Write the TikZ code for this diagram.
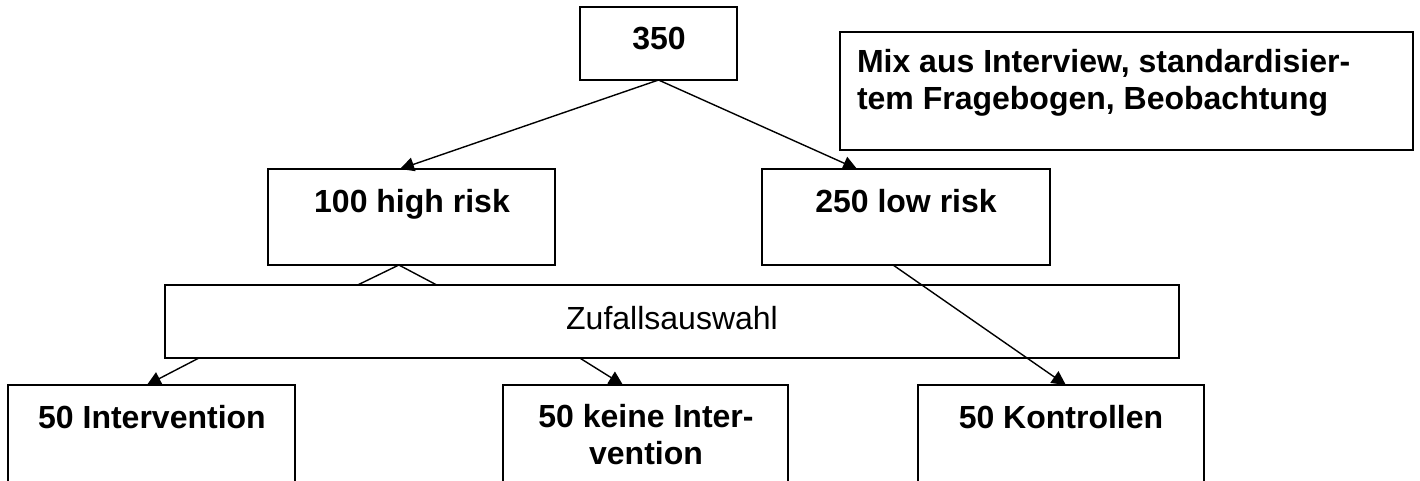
\documentclass[tikz,border=0pt]{standalone}
\usepackage{fontspec}
\setmainfont{Liberation Sans}
\usetikzlibrary{arrows.meta,calc}
\begin{document}
\begin{tikzpicture}[x=1pt,y=-1pt,
  box/.style={draw=black,line width=1.8pt,rectangle,inner sep=0pt,outer sep=0pt,anchor=north west},
  lbl/.style={inner sep=0pt,outer sep=0pt,font=\fontsize{32}{37}\selectfont\bfseries},
  plain/.style={inner sep=0pt,outer sep=0pt,font=\fontsize{32}{37}\selectfont},
  conn/.style={draw=black,line width=1.4pt},
  arr/.style={conn,-{Triangle[length=14pt,width=14pt]}}]
\useasboundingbox (0,0) rectangle (1420,481);
\clip (0,0) rectangle (1420,481);
% boxes
\node[box,minimum width=157,minimum height=73] (top) at (580,7) {};
\node[box,minimum width=573,minimum height=118] (mix) at (840,32) {};
\node[box,minimum width=287,minimum height=96] (hr) at (268,169) {};
\node[box,minimum width=288,minimum height=96] (lr) at (762,169) {};
\node[box,minimum width=1014,minimum height=73] (zu) at (165,285) {};
\node[box,minimum width=287,minimum height=110] (iv) at (8,385) {};
\node[box,minimum width=285,minimum height=110] (ki) at (503,385) {};
\node[box,minimum width=286,minimum height=110] (ko) at (918,385) {};
% texts
\node[lbl,anchor=base] (t350) at (659,50) {350};
\node[lbl,anchor=base west,align=left] (tmix) at (857,110) {Mix aus Interview, standardisier-\\tem Fragebogen, Beobachtung};
\node[lbl,anchor=base] (thr) at (412,212) {100 high risk};
\node[lbl,anchor=base] (tlr) at (906,212) {250 low risk};
\node[plain,anchor=base] (tzu) at (672,329) {Zufallsauswahl};
\node[lbl,anchor=base] (tiv) at (152,428) {50 Intervention};
\node[lbl,anchor=base,align=center] (tki) at (646,464) {50 keine Inter-\\vention};
\node[lbl,anchor=base] (tko) at (1061,428) {50 Kontrollen};
% connectors
\draw[arr] (top.south) -- ($(hr.north west)!0.46!(hr.north east)$);
\draw[arr] (top.south) -- ($(lr.north west)!0.33!(lr.north east)$);
\coordinate (hrb) at ($(hr.south west)!0.456!(hr.south east)$);
\draw[conn] ($(zu.north west)!0.19!(zu.north east)$) -- (hrb) -- ($(zu.north west)!0.268!(zu.north east)$);
\draw[arr] ($(lr.south west)!0.455!(lr.south east)$) -- ($(ko.north west)!0.517!(ko.north east)$);
\draw[arr] ($(zu.south west)!0.0335!(zu.south east)$) -- ($(iv.north west)!0.484!(iv.north east)$);
\draw[arr] ($(zu.south west)!0.409!(zu.south east)$) -- ($(ki.north west)!0.421!(ki.north east)$);
\end{tikzpicture}
\end{document}
